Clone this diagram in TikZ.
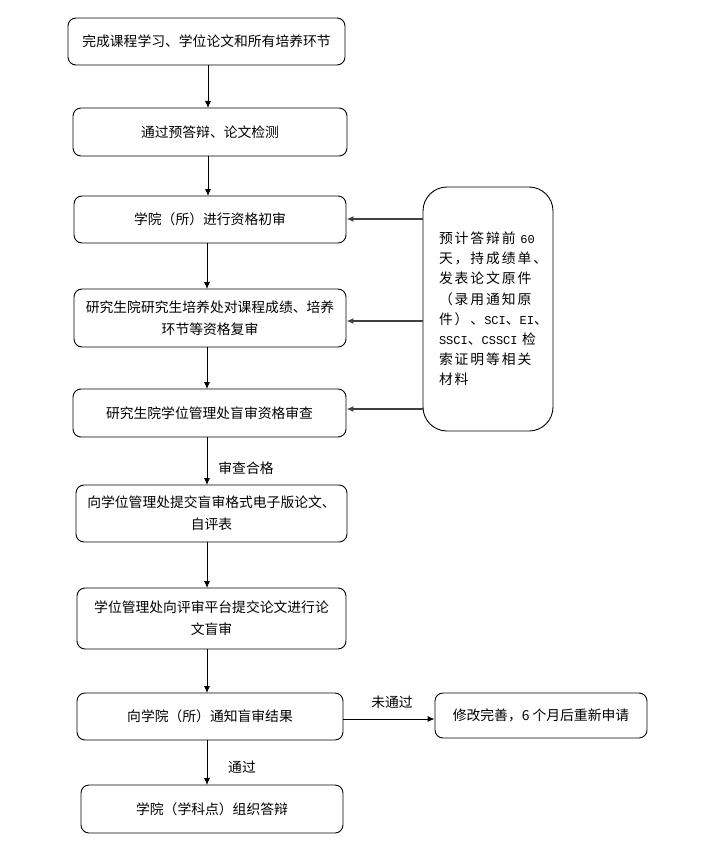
\documentclass[tikz,border=0pt]{standalone}
\usepackage{fontspec}
\setmainfont{Noto Sans CJK SC}
\newfontfamily\sidefont[LetterSpace=14]{Noto Sans CJK SC}
\newfontfamily\latinmono{Liberation Mono}
\newcommand{\lm}[1]{{\latinmono\fontsize{12}{20}\selectfont #1}}
\usetikzlibrary{arrows.meta}
\begin{document}
\begin{tikzpicture}[x=1pt,y=-1pt,
  box/.style={draw=black,line width=0.9pt,rounded corners=8pt,align=center,font=\fontsize{13.8}{22}\selectfont,inner sep=0pt},
  arr/.style={draw=black,line width=0.9pt,-{Latex[length=7pt,width=6pt]}},
  sidearr/.style={draw=black!75,line width=1.4pt,-{Latex[length=7pt,width=6pt]}},
  lbl/.style={font=\fontsize{13.8}{16}\selectfont,inner sep=0pt}]
\useasboundingbox (0,0) rectangle (715,845);
\node[box,minimum width=277,minimum height=47] (b1) at (206.5,41.5) {完成课程学习、学位论文和所有培养环节};
\node[box,minimum width=274,minimum height=48] (b2) at (210,132) {通过预答辩、论文检测};
\node[box,minimum width=272,minimum height=47] (b3) at (210,219.5) {学院（所）进行资格初审};
\node[box,minimum width=272,minimum height=58] (b4) at (210,318) {研究生院研究生培养处对课程成绩、培养\\环节等资格复审};
\node[box,minimum width=273,minimum height=48] (b5) at (209.5,413) {研究生院学位管理处盲审资格审查};
\node[box,minimum width=271,minimum height=57] (b6) at (211.5,513.5) {向学位管理处提交盲审格式电子版论文、\\自评表};
\node[box,minimum width=269,minimum height=61] (b7) at (211.5,618.5) {学位管理处向评审平台提交论文进行论\\文盲审};
\node[box,minimum width=266,minimum height=47] (b8) at (210,716.5) {向学院（所）通知盲审结果};
\node[box,minimum width=262,minimum height=48] (b9) at (212,809) {学院（学科点）组织答辩};
\node[box,minimum width=130,minimum height=244,rounded corners=24pt,align=left,text width=98,
      font=\sidefont\fontsize{13.8}{20.2}\selectfont] (side) at (488,309)
  {预计答辩前 \lm{60}\\天，持成绩单、\\发表论文原件\\（录用通知原\\件）、\lm{SCI}、\lm{EI}、\\\lm{SSCI}、\lm{CSSCI} 检\\索证明等相关\\材料\\[8pt]};
\node[box,minimum width=212,minimum height=45] (b10) at (541,715.5) {修改完善，6 个月后重新申请};
\draw[arr] (208,65) -- (208,108);
\draw[arr] (208,156) -- (208,196);
\draw[arr] (207,243) -- (207,289);
\draw[arr] (207,347) -- (207,389);
\draw[arr] (207,437) -- (207,485);
\draw[arr] (207,542) -- (207,588);
\draw[arr] (207,649) -- (207,693);
\draw[arr] (207,740) -- (207,785);
\draw[sidearr] (side.west |- 0,219) -- (b3.east |- 0,219);
\draw[sidearr] (side.west |- 0,321) -- (b4.east |- 0,321);
\draw[sidearr] (side.west |- 0,409) -- (b5.east |- 0,409);
\draw[arr] (b8.east |- 0,719) -- (b10.west |- 0,719);
\node[lbl] (l1) at (246,468) {审查合格};
\node[lbl] (l2) at (242,767) {通过};
\node[lbl] (l3) at (392,702) {未通过};
\end{tikzpicture}
\end{document}
